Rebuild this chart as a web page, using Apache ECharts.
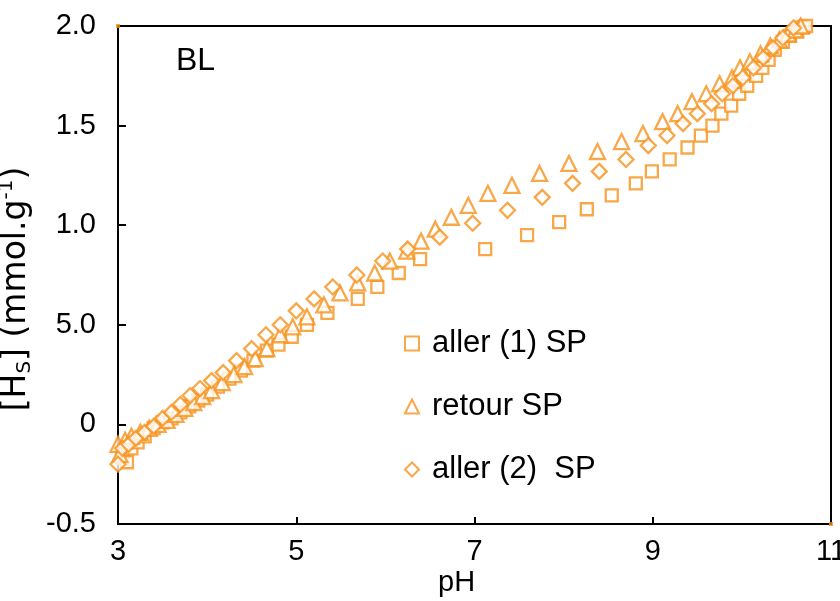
<!DOCTYPE html>
<html>
<head>
<meta charset="utf-8">
<script src="https://cdn.jsdelivr.net/npm/echarts@6/dist/echarts.min.js"></script>
<style>
html,body{margin:0;padding:0;background:#fff;}
#chart{width:840px;height:601px;}
</style>
</head>
<body>
<div id="chart"></div>
<script>
// ---- data (pH, [Hs]) ----
const allerPH1 = [3.05,3.1,3.15,3.22,3.3,3.4,3.5,3.6,3.7,3.8,3.9,4.0,4.12,4.25,4.38,4.52,4.67,4.8,4.95,5.12,5.35,5.69,5.91,6.15,6.39,7.12,7.59,7.95,8.26,8.54,8.81,8.99,9.19,9.39,9.54,9.67,9.77,9.88,9.97,10.06,10.16,10.23,10.30,10.37,10.46,10.54,10.62,10.69,10.72];
const allerHs1 = [-0.17,-0.19,-0.12,-0.09,-0.06,-0.02,0.01,0.03,0.06,0.09,0.12,0.15,0.19,0.23,0.27,0.32,0.37,0.40,0.44,0.50,0.56,0.63,0.69,0.76,0.83,0.88,0.95,1.015,1.08,1.15,1.21,1.27,1.33,1.39,1.45,1.50,1.56,1.60,1.66,1.70,1.75,1.79,1.83,1.88,1.92,1.95,1.975,1.995,2.0];

const retourPH = [3.0,3.02,3.08,3.15,3.25,3.35,3.45,3.55,3.65,3.75,3.85,3.95,4.05,4.17,4.3,4.42,4.54,4.67,4.82,4.96,5.12,5.31,5.49,5.69,5.88,6.05,6.24,6.40,6.56,6.74,6.93,7.15,7.42,7.73,8.06,8.38,8.65,8.89,9.11,9.28,9.44,9.60,9.75,9.89,9.98,10.09,10.21,10.32,10.42,10.52,10.60,10.66];
const retourHs = [-0.1,-0.15,-0.08,-0.06,-0.04,-0.02,0.0,0.02,0.05,0.08,0.11,0.14,0.17,0.21,0.25,0.29,0.33,0.38,0.45,0.49,0.54,0.60,0.66,0.71,0.76,0.82,0.87,0.92,0.98,1.04,1.10,1.16,1.20,1.26,1.31,1.37,1.42,1.46,1.52,1.56,1.62,1.66,1.71,1.74,1.79,1.82,1.86,1.90,1.93,1.96,1.98,2.0];

const allerPH2 = [3.0,3.05,3.12,3.2,3.3,3.4,3.5,3.6,3.7,3.81,3.92,4.05,4.18,4.33,4.50,4.66,4.82,5.0,5.20,5.41,5.68,5.97,6.25,6.61,6.98,7.37,7.76,8.10,8.40,8.70,8.95,9.16,9.34,9.50,9.66,9.78,9.90,10.01,10.13,10.24,10.35,10.46,10.58,10.68];
const allerHs2 = [-0.2,-0.12,-0.1,-0.07,-0.04,-0.01,0.03,0.06,0.10,0.145,0.18,0.22,0.26,0.32,0.38,0.45,0.50,0.57,0.63,0.69,0.75,0.82,0.88,0.94,1.01,1.075,1.14,1.21,1.27,1.33,1.40,1.45,1.51,1.56,1.61,1.66,1.70,1.74,1.79,1.84,1.89,1.94,1.99,2.01];

const seriesNames = ['aller (1) SP', 'retour SP', 'aller (2)  SP'];
const xTickLabels = ['3','5','7','9','11'];
const yTickLabels = ['-0.5','0','5.0','1.0','1.5','2.0'];
const cornerPH = [3, 11];
const cornerHs = [2.0, -0.5];

const ORANGE = '#F6911C';
const FONT = 'Liberation Sans, Arial, sans-serif';
const NAMEFONT = 'DejaVu Sans, sans-serif';

function pairs(xs, ys){ return xs.map((x,i)=>[x, ys[i]]); }

const chart = echarts.init(document.getElementById('chart'), null, {renderer:'canvas'});

const mk = (name, symbol, size, xs, ys) => ({
  name, type:'scatter', symbol, symbolSize:size,
  data: pairs(xs, ys),
  itemStyle:{color:'#fff', borderColor:ORANGE, borderWidth:2.3},
  emphasis:{disabled:true}, z:3
});

chart.setOption({
  animation:false,
  backgroundColor:'#fff',
  grid:{left:118, right:9, top:26, bottom:77, containLabel:false, outerBoundsMode:'none',
        show:true, borderColor:'#000', borderWidth:2, backgroundColor:'transparent'},
  xAxis:{
    type:'value', min:3, max:11, interval:2,
    axisLine:{show:true, onZero:false, lineStyle:{color:'#000', width:2}},
    axisTick:{show:true, inside:true, length:7, lineStyle:{color:'#000', width:2}},
    splitLine:{show:false},
    axisLabel:{color:'#000', fontSize:29, fontFamily:FONT, margin:13, hideOverlap:false,
      formatter:(v)=>{ const i = Math.round((v-3)/2); return xTickLabels[i] ?? ''; }}
  },
  yAxis:{
    type:'value', min:-0.5, max:2.0, interval:0.5,
    axisLine:{show:true, onZero:false, lineStyle:{color:'#000', width:2}},
    axisTick:{show:true, inside:true, length:8, lineStyle:{color:'#000', width:2}},
    splitLine:{show:false},
    axisLabel:{color:'#000', fontSize:29, fontFamily:FONT, margin:22, hideOverlap:false,
      formatter:(v)=>{ const i = Math.round((v+0.5)/0.5); return yTickLabels[i] ?? ''; }},
    name:'{a|[H}{sub|S}{a|] (mmol.g}{sup|-1}{a|)}',
    nameLocation:'middle', nameRotate:90, nameGap:70,
    nameTextStyle:{
      color:'#000', fontFamily:NAMEFONT, fontSize:33, padding:[0,28,0,0],
      rich:{
        a:{fontSize:33, fontFamily:NAMEFONT, color:'#000', lineHeight:38},
        sub:{fontSize:20, fontFamily:NAMEFONT, color:'#000', lineHeight:20, verticalAlign:'bottom'},
        sup:{fontSize:20, fontFamily:NAMEFONT, color:'#000', lineHeight:20, verticalAlign:'top'}
      }
    }
  },
  legend:{
    orient:'vertical', left:399, top:323,
    itemWidth:14, itemHeight:14, itemGap:32,
    data:seriesNames,
    textStyle:{color:'#000', fontSize:31, fontFamily:FONT, padding:[0,0,0,8]},
    selectedMode:false
  },
  graphic:[
    {type:'text', left:176, top:45, style:{text:'BL', fontSize:32, fontFamily:FONT, fill:'#000'}},
    {type:'text', left:438, top:568, style:{text:'pH', fontSize:29, fontFamily:FONT, fill:'#000'}}
  ],
  series:[
    mk(seriesNames[0], 'rect', 12, allerPH1, allerHs1),
    mk(seriesNames[1], 'triangle', 15, retourPH, retourHs),
    mk(seriesNames[2], 'diamond', 15, allerPH2, allerHs2),
    {type:'scatter', symbol:'rect', symbolSize:4, data:pairs(cornerPH, cornerHs),
     itemStyle:{color:ORANGE}, silent:true, z:4}
  ]
});
</script>
</body>
</html>
